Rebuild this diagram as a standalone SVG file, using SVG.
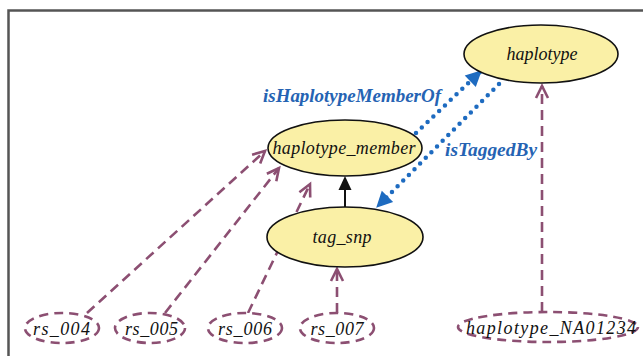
<svg xmlns="http://www.w3.org/2000/svg" width="643" height="356" viewBox="0 0 643 356">
<style>
.cls{fill:#faf0a6;stroke:#111;stroke-width:1.6}
.ind{fill:#fff;stroke:#8c4f72;stroke-width:2.6;stroke-dasharray:9 6}
.t{font-family:"Liberation Serif","Times New Roman",serif;font-style:italic;font-size:18px;fill:#111;text-anchor:middle}
.lbl{font-family:"Liberation Serif","Times New Roman",serif;font-style:italic;font-weight:bold;font-size:18px;fill:#2563b3}
.inst{fill:none;stroke:#8c4f72;stroke-width:2.6;stroke-dasharray:10 6}
.prop{fill:none;stroke:#1e6bc0;stroke-width:4.5;stroke-linecap:round;stroke-dasharray:0 8}
</style>
<defs>
<marker id="open" markerUnits="userSpaceOnUse" markerWidth="16" markerHeight="16" viewBox="-2 -2 16 16" refX="12" refY="6" orient="auto" overflow="visible">
<path d="M0,0 L12,6 L0,12" fill="none" stroke="#8c4f72" stroke-width="2.6" stroke-linejoin="miter"/>
</marker>
<marker id="blue" markerUnits="userSpaceOnUse" markerWidth="16" markerHeight="16" viewBox="0 0 14 14" refX="13" refY="7" orient="auto" overflow="visible">
<path d="M0,0 L14,7 L0,14 Z" fill="#1e6bc0"/>
</marker>
</defs>
<rect x="0" y="0" width="643" height="356" fill="#fff"/>
<path d="M8.5,356 V10.5 H643" fill="none" stroke="#555" stroke-width="2.5"/>

<g id="connectors">
<line class="inst" x1="87" y1="313" x2="265" y2="151" marker-end="url(#open)"/>
<line class="inst" x1="165" y1="313" x2="279" y2="168" marker-end="url(#open)"/>
<line class="inst" x1="248" y1="313" x2="310" y2="184" marker-end="url(#open)"/>
<line class="inst" x1="337" y1="313" x2="337" y2="269" marker-end="url(#open)"/>
<line class="inst" x1="542" y1="312" x2="542" y2="86" marker-end="url(#open)"/>
<line x1="345" y1="207" x2="345" y2="189" stroke="#111" stroke-width="2"/>
<polygon points="345,176 338.5,190 351.5,190" fill="#111"/>
<line class="prop" x1="416" y1="133" x2="481" y2="71" marker-end="url(#blue)"/>
<line class="prop" x1="499" y1="84" x2="377" y2="207" marker-end="url(#blue)"/>
<text class="lbl" x="263" y="102" textLength="178" lengthAdjust="spacingAndGlyphs">isHaplotypeMemberOf</text>
<text class="lbl" x="445" y="156" textLength="92" lengthAdjust="spacingAndGlyphs">isTaggedBy</text>
</g>

<g id="haplotype">
<ellipse class="cls" cx="541" cy="54" rx="77" ry="29"/>
<text class="t" x="542" y="60" textLength="71">haplotype</text>
</g>
<g id="haplotype_member">
<ellipse class="cls" cx="345" cy="148" rx="77" ry="28"/>
<text class="t" x="344" y="154" textLength="143">haplotype_member</text>
</g>
<g id="tag_snp">
<ellipse class="cls" cx="345" cy="237" rx="78" ry="30"/>
<text class="t" x="342" y="243" textLength="59">tag_snp</text>
</g>
<g id="rs_004">
<ellipse class="ind" cx="62" cy="328" rx="37" ry="15"/>
<text class="t" x="61.5" y="335" textLength="57">rs_004</text>
</g>
<g id="rs_005">
<ellipse class="ind" cx="150" cy="328" rx="35" ry="15"/>
<text class="t" x="151.5" y="335" textLength="53">rs_005</text>
</g>
<g id="rs_006">
<ellipse class="ind" cx="245" cy="328" rx="37" ry="15"/>
<text class="t" x="245" y="335" textLength="54">rs_006</text>
</g>
<g id="rs_007">
<ellipse class="ind" cx="337" cy="328" rx="37" ry="15"/>
<text class="t" x="337" y="335" textLength="53">rs_007</text>
</g>
<g id="haplotype_NA01234">
<ellipse class="ind" cx="548" cy="327" rx="90" ry="15"/>
<text class="t" x="551" y="334" textLength="170">haplotype_NA01234</text>
</g>
</svg>
